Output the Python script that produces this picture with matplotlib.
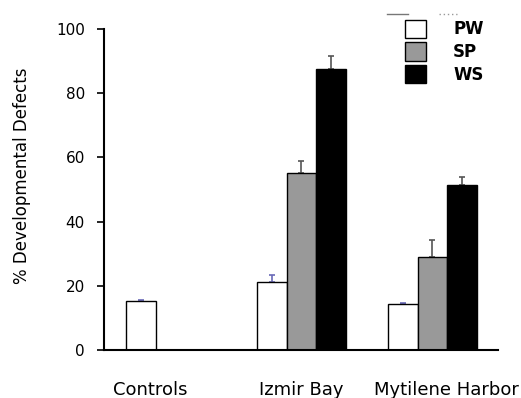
import numpy as np
import matplotlib
matplotlib.use('Agg')
import matplotlib.pyplot as plt
from matplotlib.lines import Line2D

sites = ['Controls', 'Izmir Bay', 'Mytilene Harbor']
series = ['PW', 'SP', 'WS']
pw = [15.4, 21.3, 14.3]
sp = [0, 55.0, 29.1]
ws = [0, 87.5, 51.4]
pw_err = [0.3, 2.1, 0.3]
sp_err = [0, 3.9, 5.2]
ws_err = [0, 4.1, 2.4]

colors = ['white', '#999999', 'black']
ecolors = ['#6a6ab8', '#555555', '#555555']

fig = plt.figure(figsize=(5.21, 3.98), dpi=100, facecolor='w')
ax = fig.add_axes([0.1987, 0.1206, 0.757, 0.8065])

x = np.arange(len(sites))
w = 0.226
for i, (vals, errs) in enumerate([(pw, pw_err), (sp, sp_err), (ws, ws_err)]):
    pos = x + (i - 1) * w
    ax.bar(pos, vals, w, color=colors[i], edgecolor='black', linewidth=1.0,
           label=series[i], zorder=2)
    e = np.array(errs)
    m = e > 0
    ax.errorbar(pos[m], np.array(vals)[m], yerr=[np.zeros(m.sum()), e[m]],
                fmt='none', ecolor=ecolors[i], elinewidth=1.2, capsize=2.5,
                capthick=1.2, zorder=1)

ax.set_xlim(-0.51, 2.5)
ax.set_ylim(0, 100)
ax.set_yticks([0, 20, 40, 60, 80, 100])
ax.tick_params(axis='y', direction='out', length=5, width=1.2, labelsize=11, pad=8.5)
# label positions as placed in the original figure
ax.set_xticks([-0.155, 1.0, 2.105])
ax.set_xticklabels(sites, fontsize=13)
ax.tick_params(axis='x', length=0, pad=22)
for s in ['top', 'right']:
    ax.spines[s].set_visible(False)
ax.spines['left'].set_linewidth(1.5)
ax.spines['bottom'].set_linewidth(1.5)
ax.set_ylabel('% Developmental Defects', fontsize=12)
ax.yaxis.set_label_coords(-0.184, 0.542)

ax.legend(loc='upper left', bbox_to_anchor=(0.777, 0.951),
          bbox_transform=fig.transFigure, frameon=False,
          prop={'weight': 'bold', 'size': 12}, handlelength=1.3,
          handleheight=1.35, labelspacing=0.22, handletextpad=1.6,
          borderpad=0, borderaxespad=0)

# stray marks at the top edge of the original
fig.add_artist(Line2D([0.743, 0.783], [0.965, 0.965], color='#777777', lw=1))
fig.add_artist(Line2D([0.842, 0.877], [0.965, 0.965], color='#999999', lw=1, ls=(0, (1, 2))))

fig.savefig('out.png', dpi=100)
